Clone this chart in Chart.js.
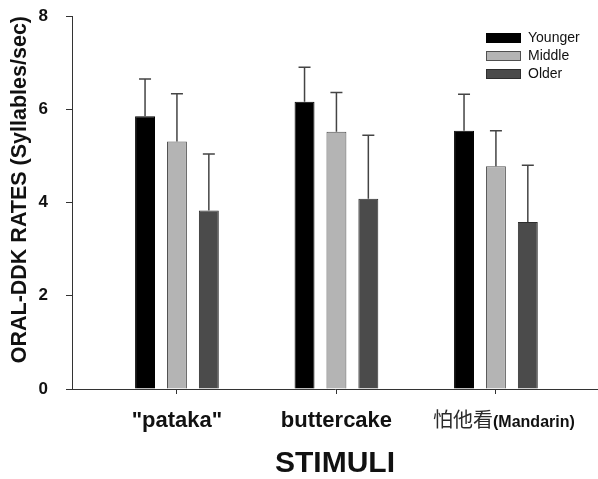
<!DOCTYPE html>
<html>
<head>
<meta charset="utf-8">
<script src="https://cdn.jsdelivr.net/npm/chart.js@4.4.0/dist/chart.umd.min.js"></script>
<style>
  html, body { margin: 0; padding: 0; background: #fff; }
  #wrap { width: 598px; height: 479px; position: relative; }
</style>
</head>
<body>
<div id="wrap"><canvas id="chart"></canvas></div>
<script>
// --- DATA ---
const CATEGORIES = ['"pataka"', 'buttercake', '怕他看(Mandarin)'];
const GROUPS = ['Younger', 'Middle', 'Older'];
const YOUNGER_MEAN = [5.85, 6.16, 5.54];
const MIDDLE_MEAN = [5.31, 5.52, 4.78];
const OLDER_MEAN = [3.83, 4.08, 3.58];
const YOUNGER_SD = [0.80, 0.74, 0.78];
const MIDDLE_SD = [1.02, 0.84, 0.76];
const OLDER_SD = [1.21, 1.36, 1.22];
const Y_TICKS = [0, 2, 4, 6, 8];

const FILLS = ['#000000', '#b4b4b4', '#4b4b4b'];
const BORDERS = ['#000000', '#505050', '#2e2e2e'];
const FONT = '"Liberation Sans", Arial, Helvetica, sans-serif';

const toPoints = (means) => means.map((v, i) => ({ x: i + 1, y: v }));

// upward-only error bars with a cap
const errorBarPlugin = {
    id: 'errorBars',
    afterDatasetsDraw(chart) {
        const ctx = chart.ctx;
        const yScale = chart.scales.y;
        ctx.save();
        ctx.strokeStyle = '#444';
        ctx.lineWidth = 1.5;
        chart.data.datasets.forEach((ds, di) => {
            const meta = chart.getDatasetMeta(di);
            meta.data.forEach((bar, i) => {
                const top = yScale.getPixelForValue(ds.data[i].y + ds.sd[i]);
                ctx.beginPath();
                ctx.moveTo(bar.x, bar.y);
                ctx.lineTo(bar.x, top);
                ctx.moveTo(bar.x - 6, top);
                ctx.lineTo(bar.x + 6, top);
                ctx.stroke();
            });
        });
        ctx.restore();
    }
};

// legend box in the upper right of the plot
const boxLegendPlugin = {
    id: 'boxLegend',
    afterDraw(chart) {
        const ctx = chart.ctx;
        const left = chart.chartArea.right - 112;
        const top0 = 32.5;
        ctx.save();
        chart.data.datasets.forEach((ds, i) => {
            const y = Math.round(top0 + i * 18.4);
            ctx.fillStyle = ds.backgroundColor;
            ctx.fillRect(left, y, 35, 10);
            ctx.strokeStyle = ds.borderColor;
            ctx.lineWidth = 1;
            ctx.strokeRect(left + 0.5, y + 0.5, 34, 9);
            ctx.fillStyle = '#111';
            ctx.font = '14px ' + FONT;
            ctx.textBaseline = 'middle';
            ctx.textAlign = 'left';
            ctx.fillText(ds.label, left + 42, y + 5.5);
        });
        ctx.restore();
    }
};

// the Mandarin label mixes a regular CJK part and a bold latin part
const mixedLabelPlugin = {
    id: 'mixedLabel',
    afterDraw(chart) {
        const xScale = chart.scales.x;
        const ctx = chart.ctx;
        CATEGORIES.forEach((label, i) => {
            const cut = label.indexOf('(');
            if (cut < 0) return;
            const head = label.slice(0, cut);
            const tail = label.slice(cut);
            const headFont = '20px "Noto Sans CJK SC", sans-serif';
            const tailFont = 'bold 16px ' + FONT;
            ctx.save();
            ctx.font = headFont;
            const w1 = ctx.measureText(head).width;
            ctx.font = tailFont;
            const w2 = ctx.measureText(tail).width;
            const start = xScale.getPixelForValue(i + 1) + 8 - (w1 + w2) / 2;
            const baseY = xScale.top + 38;
            ctx.textBaseline = 'alphabetic';
            ctx.textAlign = 'left';
            ctx.fillStyle = '#2a2a2a';
            ctx.font = headFont;
            ctx.fillText(head, start, baseY);
            ctx.fillStyle = '#111';
            ctx.font = tailFont;
            ctx.fillText(tail, start + w1, baseY);
            ctx.restore();
        });
    }
};

new Chart(document.getElementById('chart'), {
    type: 'bar',
    data: {
        datasets: [
            { label: GROUPS[0], data: toPoints(YOUNGER_MEAN), sd: YOUNGER_SD },
            { label: GROUPS[1], data: toPoints(MIDDLE_MEAN), sd: MIDDLE_SD },
            { label: GROUPS[2], data: toPoints(OLDER_MEAN), sd: OLDER_SD }
        ].map((ds, i) => Object.assign(ds, {
            backgroundColor: FILLS[i],
            borderColor: BORDERS[i],
            borderWidth: 1,
            categoryPercentage: 0.6,
            barPercentage: 0.625
        }))
    },
    options: {
        responsive: true,
        maintainAspectRatio: false,
        animation: false,
        layout: { padding: { top: 16, right: 0, left: 0, bottom: 0 } },
        plugins: {
            legend: { display: false },
            tooltip: { enabled: false }
        },
        scales: {
            x: {
                type: 'linear',
                offset: false,
                min: 0.342,
                max: 3.64,
                afterBuildTicks: (scale) => { scale.ticks = CATEGORIES.map((c, i) => ({ value: i + 1 })); },
                afterFit: (scale) => { scale.height = 90; },
                grid: { offset: false, drawOnChartArea: false, drawTicks: true, tickLength: 5, color: '#333' },
                border: { display: true, color: '#333', width: 1 },
                ticks: {
                    autoSkip: false,
                    maxRotation: 0,
                    padding: 14,
                    color: '#111',
                    font: { family: FONT, size: 22, weight: 'bold' },
                    callback: (value, index) => CATEGORIES[index].includes('(') ? '' : CATEGORIES[index]
                },
                title: {
                    display: true,
                    text: 'STIMULI',
                    color: '#111',
                    padding: { top: 0, bottom: 0 },
                    font: { family: FONT, size: 30, weight: 'bold', lineHeight: 1 }
                }
            },
            y: {
                min: 0,
                max: 8,
                afterBuildTicks: (scale) => { scale.ticks = Y_TICKS.map(v => ({ value: v })); },
                afterFit: (scale) => {
                    scale.width = 72;
                    scale.paddingTop = 0;
                    scale.paddingBottom = 0;
                },
                grid: { drawOnChartArea: false, drawTicks: true, tickLength: 6, color: '#333' },
                border: { display: true, color: '#333', width: 1 },
                ticks: {
                    padding: 18,
                    color: '#111',
                    font: { family: FONT, size: 17, weight: 'bold' }
                },
                title: {
                    display: true,
                    text: 'ORAL-DDK RATES (Syllables/sec)',
                    align: 'end',
                    color: '#111',
                    padding: { top: 7, bottom: 0 },
                    font: { family: FONT, size: 21.5, weight: 'bold' }
                }
            }
        }
    },
    plugins: [errorBarPlugin, boxLegendPlugin, mixedLabelPlugin]
});
</script>
</body>
</html>
